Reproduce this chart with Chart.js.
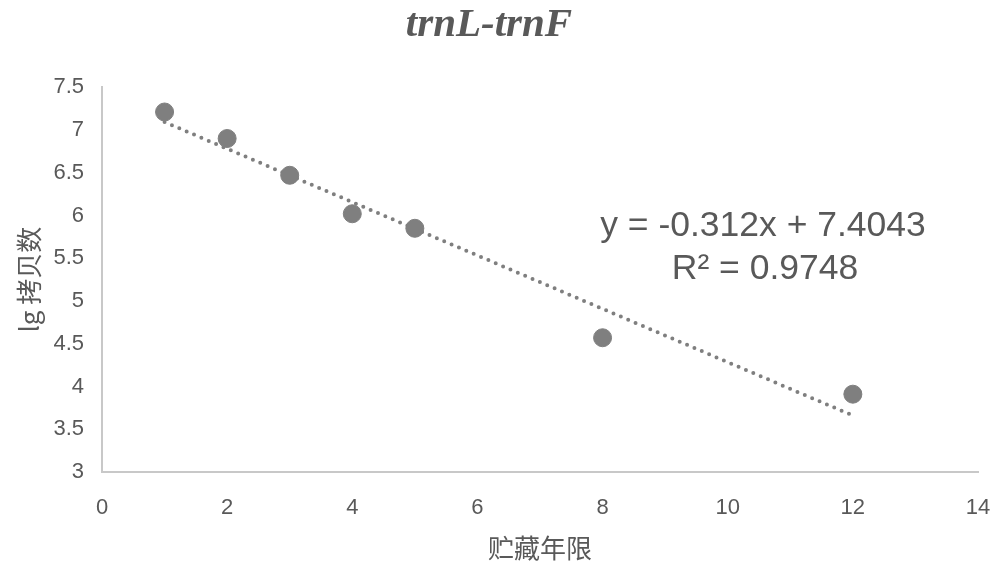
<!DOCTYPE html>
<html>
<head>
<meta charset="utf-8">
<script src="https://cdn.jsdelivr.net/npm/chart.js@4"></script>
<style>
  html, body { margin: 0; padding: 0; background: #fff; }
  #wrap { width: 1000px; height: 573px; }
</style>
</head>
<body>
<div id="wrap"><canvas id="chart" width="1000" height="573"></canvas></div>
<script>
// storage years vs lg copy number
const years = [1, 2, 3, 4, 5, 8, 12];
const lgCopies = [7.21, 6.9, 6.47, 6.02, 5.85, 4.57, 3.91];

// linear trendline shown on the chart
const trendSlope = -0.312;
const trendIntercept = 7.4043;
const trendLabels = ['y = -0.312x + 7.4043', 'R\u00B2 = 0.9748'];

const grey = '#595959';

const trendPoints = [years[0], years[years.length - 1]].map(x => ({ x: x, y: trendSlope * x + trendIntercept }));

const equationPlugin = {
    id: 'equation',
    afterDatasetsDraw(chart) {
        const ctx = chart.ctx;
        ctx.save();
        ctx.fillStyle = grey;
        ctx.font = '35.5px "Liberation Sans", Arial, sans-serif';
        ctx.textAlign = 'center';
        ctx.textBaseline = 'middle';
        ctx.fillText(trendLabels[0], 763, 226);
        ctx.fillText(trendLabels[1], 765, 269);
        ctx.restore();
    }
};

new Chart(document.getElementById('chart'), {
    type: 'scatter',
    data: {
        datasets: [{
            label: 'lg',
            data: years.map((x, i) => ({ x: x, y: lgCopies[i] })),
            backgroundColor: '#7f7f7f',
            borderColor: '#7f7f7f',
            pointRadius: 9,
            pointHoverRadius: 9,
            order: 1
        }, {
            type: 'line',
            label: 'trend',
            data: trendPoints,
            borderColor: '#7f7f7f',
            borderWidth: 4,
            borderDash: [0, 8],
            borderCapStyle: 'round',
            pointRadius: 0,
            fill: false,
            order: 2
        }]
    },
    options: {
        responsive: false,
        animation: false,
        layout: { padding: { left: 0, right: 22, top: 0, bottom: 0 } },
        plugins: {
            legend: { display: false },
            tooltip: { enabled: false },
            title: {
                display: true,
                text: 'trnL-trnF',
                color: grey,
                font: { family: '"Liberation Serif", "Times New Roman", serif', size: 41, style: 'italic', weight: 'bold' },
                padding: { top: 1, bottom: 37 }
            }
        },
        scales: {
            x: {
                type: 'linear',
                min: 0,
                max: 14,
                ticks: { stepSize: 2, color: grey, padding: 23, font: { family: '"Liberation Sans", Arial, sans-serif', size: 22 } },
                grid: { display: false, drawTicks: false },
                border: { display: true, color: '#c8c8c8', width: 2 },
                title: {
                    display: true,
                    text: '贮藏年限',
                    color: grey,
                    font: { family: '"Noto Sans CJK SC", sans-serif', size: 26 },
                    padding: { top: 0, bottom: 9 }
                },
                afterFit(scale) {
                    scale.height = 101;
                    scale.paddingLeft = 0;
                    scale.paddingRight = 0;
                }
            },
            y: {
                min: 3,
                max: 7.5,
                ticks: { stepSize: 0.5, color: grey, padding: 18, font: { family: '"Liberation Sans", Arial, sans-serif', size: 22 }, callback: v => String(v) },
                grid: { display: false, drawTicks: false },
                border: { display: true, color: '#c8c8c8', width: 2 },
                title: {
                    display: true,
                    text: 'lg 拷贝数',
                    color: grey,
                    font: { family: '"Noto Sans CJK SC", sans-serif', size: 26 },
                    padding: { top: 14, bottom: 0 }
                },
                afterFit(scale) { scale.width = 102; }
            }
        }
    },
    plugins: [equationPlugin]
});
</script>
</body>
</html>
